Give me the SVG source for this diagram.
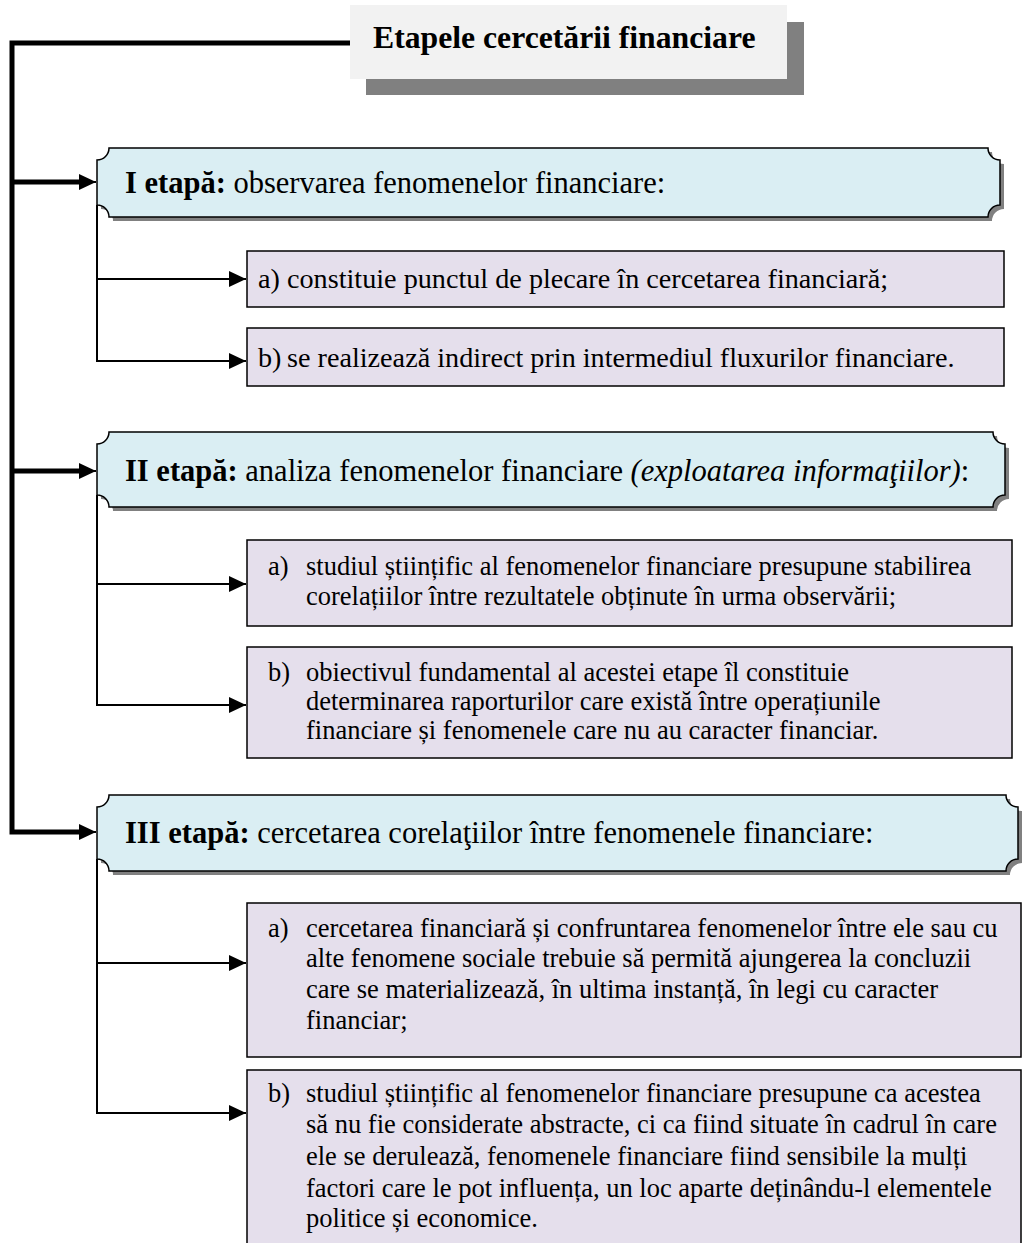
<svg xmlns="http://www.w3.org/2000/svg" width="1022" height="1243" viewBox="0 0 1022 1243">
<style>
text{font-family:"Liberation Serif","Times New Roman",serif;fill:#000}
.title{font-size:31.7px;font-weight:bold}
.stage{font-size:30.5px}
.sub{font-size:26.5px}
.sub1{font-size:28.2px}
.b{font-weight:bold}
.i{font-style:italic}
.sbox{fill:#daeef3;stroke:#000;stroke-width:1.5}
.shd{fill:#808080}
.ibox{fill:#e5dfec;stroke:#000;stroke-width:1.5}
.thick{fill:none;stroke:#000;stroke-width:5}
.thin{fill:none;stroke:#000;stroke-width:2}
</style>
<defs>
<marker id="ah" markerUnits="userSpaceOnUse" markerWidth="17" markerHeight="16" refX="17" refY="8" orient="auto">
<path d="M0,0 L17,8 L0,16 Z" fill="#000"/>
</marker>
</defs>

<g id="connectors">
<path class="thick" d="M351,43 H12 V832 H80"/>
<path class="thick" d="M12,182 H80"/>
<path class="thick" d="M12,471 H80"/>
<path d="M78,832 H96" stroke="#000" stroke-width="2" marker-end="url(#ah)"/>
<path d="M78,182 H96" stroke="#000" stroke-width="2" marker-end="url(#ah)"/>
<path d="M78,471 H96" stroke="#000" stroke-width="2" marker-end="url(#ah)"/>
<path class="thin" d="M97,205 V361 H246" marker-end="url(#ah)"/>
<path class="thin" d="M97,279 H246" marker-end="url(#ah)"/>
<path class="thin" d="M97,495 V705 H246" marker-end="url(#ah)"/>
<path class="thin" d="M97,584 H246" marker-end="url(#ah)"/>
<path class="thin" d="M97,859 V1113 H246" marker-end="url(#ah)"/>
<path class="thin" d="M97,963 H246" marker-end="url(#ah)"/>
</g>

<g id="title">
<rect class="shd" x="366" y="22" width="438" height="73"/>
<rect x="350" y="5" width="437" height="74" fill="#f2f2f2"/>
<text class="title" x="373" y="48">Etapele cercetării financiare</text>
</g>

<g id="stage1">
<path class="shd" transform="translate(4,4)" d="M109,148 H988 A12,12 0 0 0 1000,160 V205 A12,12 0 0 0 988,217 H109 A12,12 0 0 0 97,205 V160 A12,12 0 0 0 109,148 Z"/>
<path class="sbox" d="M109,148 H988 A12,12 0 0 0 1000,160 V205 A12,12 0 0 0 988,217 H109 A12,12 0 0 0 97,205 V160 A12,12 0 0 0 109,148 Z"/>
<text class="stage" x="125" y="193"><tspan class="b">I etapă:</tspan> observarea fenomenelor financiare:</text>
</g>

<g id="stage1a">
<rect class="ibox" x="247" y="251" width="757" height="56"/>
<text class="sub1" x="258" y="288">a)</text>
<text class="sub1" x="287" y="288">constituie punctul de plecare în cercetarea financiară;</text>
</g>

<g id="stage1b">
<rect class="ibox" x="247" y="328" width="757" height="58"/>
<text class="sub1" x="258" y="367">b)</text>
<text class="sub1" x="287" y="367">se realizează indirect prin intermediul fluxurilor financiare.</text>
</g>

<g id="stage2">
<path class="shd" transform="translate(4,4)" d="M109,432 H993 A12,12 0 0 0 1005,444 V495 A12,12 0 0 0 993,507 H109 A12,12 0 0 0 97,495 V444 A12,12 0 0 0 109,432 Z"/>
<path class="sbox" d="M109,432 H993 A12,12 0 0 0 1005,444 V495 A12,12 0 0 0 993,507 H109 A12,12 0 0 0 97,495 V444 A12,12 0 0 0 109,432 Z"/>
<text class="stage" x="125" y="481"><tspan class="b">II etapă:</tspan> analiza fenomenelor financiare <tspan class="i">(exploatarea informaţiilor)</tspan>:</text>
</g>

<g id="stage2a">
<rect class="ibox" x="247" y="540" width="765" height="86"/>
<text class="sub" x="268" y="575">a)</text>
<text class="sub" x="306" y="575">studiul  științific al fenomenelor financiare presupune stabilirea</text>
<text class="sub" x="306" y="605">corelațiilor între rezultatele obținute în urma observării;</text>
</g>

<g id="stage2b">
<rect class="ibox" x="247" y="647" width="765" height="111"/>
<text class="sub" x="268" y="681">b)</text>
<text class="sub" x="306" y="681">obiectivul fundamental al acestei etape îl constituie</text>
<text class="sub" x="306" y="710">determinarea raporturilor care există între operațiunile</text>
<text class="sub" x="306" y="739">financiare și fenomenele care nu au caracter financiar.</text>
</g>

<g id="stage3">
<path class="shd" transform="translate(4,4)" d="M109,795 H1006 A12,12 0 0 0 1018,807 V859 A12,12 0 0 0 1006,871 H109 A12,12 0 0 0 97,859 V807 A12,12 0 0 0 109,795 Z"/>
<path class="sbox" d="M109,795 H1006 A12,12 0 0 0 1018,807 V859 A12,12 0 0 0 1006,871 H109 A12,12 0 0 0 97,859 V807 A12,12 0 0 0 109,795 Z"/>
<text class="stage" x="125" y="843"><tspan class="b">III etapă:</tspan> cercetarea corelaţiilor între fenomenele financiare:</text>
</g>

<g id="stage3a">
<rect class="ibox" x="247" y="903" width="774" height="154"/>
<text class="sub" x="268" y="937">a)</text>
<text class="sub" x="306" y="937">cercetarea financiară și confruntarea fenomenelor între ele sau cu</text>
<text class="sub" x="306" y="967">alte fenomene sociale trebuie să permită ajungerea la concluzii</text>
<text class="sub" x="306" y="998">care se materializează, în ultima instanță, în legi cu caracter</text>
<text class="sub" x="306" y="1029">financiar;</text>
</g>

<g id="stage3b">
<rect class="ibox" x="247" y="1070" width="774" height="190"/>
<text class="sub" x="268" y="1102">b)</text>
<text class="sub" x="306" y="1102">studiul științific al fenomenelor financiare presupune ca acestea</text>
<text class="sub" x="306" y="1133">să nu fie considerate abstracte, ci ca fiind situate în cadrul în care</text>
<text class="sub" x="306" y="1165">ele se derulează, fenomenele financiare fiind sensibile la mulți</text>
<text class="sub" x="306" y="1197">factori care le pot influența, un loc aparte deținându-l elementele</text>
<text class="sub" x="306" y="1227">politice și economice.</text>
</g>
</svg>
